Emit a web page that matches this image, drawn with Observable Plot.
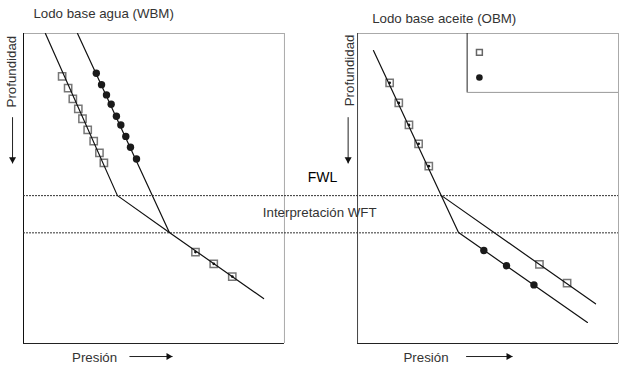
<!DOCTYPE html>
<html><head><meta charset="utf-8">
<script src="https://cdn.jsdelivr.net/npm/d3@7"></script>
<script src="https://cdn.jsdelivr.net/npm/@observablehq/plot@0.6"></script>
<style>body{margin:0;background:#fff}</style>
</head><body><div id="chart"></div>
<script>
// Panels and their titles
const panels = ["WBM", "OBM"];
const panelTitles = ["Lodo base agua (WBM)", "Lodo base aceite (OBM)"];
const panelOffset = {WBM: 0, OBM: 128};   // pressure-axis offset of each panel (arbitrary units)

// Arbitrary units: pressure 0..100 per panel, depth 0..100 (down)
// WBM panel
const wbmLineA = [[8.4, 0], [36.0, 52.3], [55.9, 64.2], [92.0, 85.5]];
const wbmLineB = [[20.7, 0], [55.9, 64.2]];
const wbmSquares = [[14.8,13.8],[17.1,17.6],[18.9,21.1],[21.0,24.3],[22.6,27.5],[24.6,31.1],[26.9,34.7],[29.1,38.5],[30.8,41.7]];
const wbmCircles = [[27.9,12.8],[29.9,16.5],[31.8,19.8],[33.6,22.8],[35.6,26.7],[37.3,29.5],[39.2,33.2],[41.0,36.7],[43.3,40.5]];
const wbmSquaresDot = [[65.9,70.5],[72.9,74.3],[80.0,78.4]];
// OBM panel
const obmLineA = [[6.1, 5.5], [38.7, 64.2], [88.1, 93.2]];
const obmLineB = [[32.2, 52.3], [91.2, 87.2]];
const obmSquaresDot = [[12.3,15.9],[15.8,22.4],[19.7,29.5],[23.4,35.6],[27.3,42.8]];
const obmSquares = [[69.7,74.5],[80.3,80.5]];
const obmCircles = [[48.4,70.0],[57.1,74.9],[67.6,81.1]];
// Interpretation band depths
const bandDepths = [52.3, 64.3];
const fwlLabel = "FWL";
const wftLabel = "Interpretación WFT";
const xLabel = "Presión";
const yLabel = "Profundidad";

const pts = (arr, panel, extra = {}) => arr.map(([p, d]) => ({x: p + panelOffset[panel], y: d, ...extra}));
const lines = [
  ...pts(wbmLineA, "WBM", {id: "wa"}), ...pts(wbmLineB, "WBM", {id: "wb"}),
  ...pts(obmLineA, "OBM", {id: "oa"}), ...pts(obmLineB, "OBM", {id: "ob"})
];
const openSquares = [...pts(wbmSquares, "WBM"), ...pts(obmSquares, "OBM")];
const dotSquares = [...pts(wbmSquaresDot, "WBM"), ...pts(obmSquaresDot, "OBM")];
const circles = [...pts(wbmCircles, "WBM"), ...pts(obmCircles, "OBM")];

const off = p => panelOffset[p];
const titleInfo = panels.map((p, i) => ({p, t: panelTitles[i], y: i === 0 ? -6.4 : -4.8, x: off(p) + (i === 0 ? 3.8 : 5.6)}));
const vArrows = panels.map((p, i) => ({x: off(p) + (i === 0 ? -4.2 : -3.6), y1: 27, y2: 41.9}));
const hArrows = panels.map((p, i) => ({y: 104.2, x1: off(p) + (i === 0 ? 40.6 : 41.6), x2: off(p) + (i === 0 ? 57.1 : 59.4)}));
const legend = [{s: "square"}, {s: "circle"}];

const chart = Plot.plot({
  width: 640, height: 369,
  marginLeft: 23, marginRight: 22, marginTop: 33, marginBottom: 26,
  x: {domain: [0, 228], axis: null},
  y: {domain: [0, 100], reverse: true, axis: null},
  style: {fontFamily: "'Liberation Sans', Arial, sans-serif", background: "#fff"},
  marks: [
    // panel frames
    Plot.ruleY(panels, {y: 0, x1: off, x2: p => off(p) + 100, stroke: "#aaa"}),
    Plot.ruleX(panels, {x: p => off(p) + 100, y1: 0, y2: 100, stroke: "#aaa"}),
    Plot.ruleY(panels, {y: 100, x1: off, x2: p => off(p) + 100, stroke: "#222"}),
    Plot.ruleX(panels, {x: off, y1: 0, y2: 100, stroke: p => p === "WBM" ? "#111" : "#444"}),
    // legend box
    Plot.ruleY([19], {x1: off("OBM") + 42, x2: off("OBM") + 100, stroke: "#999"}),
    Plot.ruleX([off("OBM") + 42], {y1: 0, y2: 19, stroke: "#222"}),
    Plot.dot(legend, {x: off("OBM") + 46.7, y: (d, i) => i === 0 ? 6.1 : 14.2, symbol: d => d.s, r: 3.3,
      fill: d => d.s === "circle" ? "#1a1a1a" : "none", stroke: d => d.s === "circle" ? "none" : "#666"}),
    // interpretation band
    Plot.ruleY(bandDepths, {x1: 0, x2: 228, stroke: "#333", strokeDasharray: "2,1"}),
    // markers under lines
    Plot.dot(openSquares, {x: "x", y: "y", symbol: "square", r: 4.1, stroke: "#777", fill: "none"}),
    Plot.dot(dotSquares, {x: "x", y: "y", symbol: "square", r: 4.1, stroke: "#777", fill: "none"}),
    // gradient lines
    Plot.line(lines, {x: "x", y: "y", z: "id", stroke: "#111", strokeWidth: 1.2}),
    Plot.dot(dotSquares, {x: "x", y: "y", r: 1.4, fill: "#111"}),
    Plot.dot(circles, {x: "x", y: "y", r: 3.7, fill: "#1a1a1a"}),
    // texts
    Plot.text(titleInfo, {x: "x", y: "y", text: "t", textAnchor: "start", fontSize: 13.3, fill: "#333"}),
    Plot.text([fwlLabel], {x: 114.6, y: 46.3, text: d => d, fontSize: 14, fill: "#000"}),
    Plot.text([wftLabel], {x: 113.5, y: 57.9, text: d => d, fontSize: 13.3, fill: "#333"}),
    Plot.text(panels, {x: p => off(p) + (p === "WBM" ? 18.6 : 17.6), y: 104.5, text: () => xLabel, textAnchor: "start", fontSize: 13.3, fill: "#333"}),
    Plot.text(panels, {x: p => off(p) + (p === "WBM" ? -4.4 : -3.1), y: p => p === "WBM" ? 12.3 : 11.9, text: () => yLabel, rotate: -90, fontSize: 13.3, fill: "#333"}),
    // arrows
    Plot.link(vArrows, {x1: "x", x2: "x", y1: "y1", y2: "y2", stroke: "#222"}),
    Plot.dot(vArrows, {x: "x", y: "y2", symbol: "triangle", r: 2.6, rotate: 180, dy: -4, fill: "#111"}),
    Plot.link(hArrows, {x1: "x1", x2: "x2", y1: "y", y2: "y", stroke: "#222"}),
    Plot.dot(hArrows, {x: "x2", y: "y", symbol: "triangle", r: 2.6, rotate: 90, dx: -4, fill: "#111"})
  ]
});
document.getElementById("chart").appendChild(chart);
</script>
</body></html>
